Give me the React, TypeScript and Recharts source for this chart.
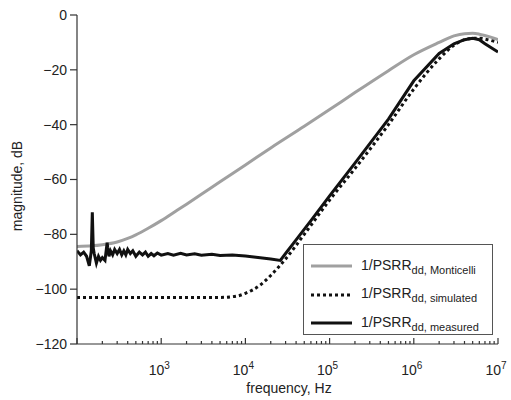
import { LineChart, Line, XAxis, YAxis, Legend, Label } from "recharts"

const FONT = '"Liberation Sans", Arial, sans-serif'

// log-axis ticks: decades get a label, the rest are minor marks
const freqTicks = [
  100, 200, 300, 400, 500, 600, 700, 800, 900,
  1e3, 2e3, 3e3, 4e3, 5e3, 6e3, 7e3, 8e3, 9e3,
  1e4, 2e4, 3e4, 4e4, 5e4, 6e4, 7e4, 8e4, 9e4,
  1e5, 2e5, 3e5, 4e5, 5e5, 6e5, 7e5, 8e5, 9e5,
  1e6, 2e6, 3e6, 4e6, 5e6, 6e6, 7e6, 8e6, 9e6,
  1e7,
]
const dbTicks = [-120, -100, -80, -60, -40, -20, 0]

const montiFreq = [100, 150, 200, 300, 400, 500, 700, 1e3, 1.5e3, 2e3, 3e3, 5e3, 1e4, 2e4, 5e4, 1e5, 2e5, 5e5, 1e6, 2e6, 3e6, 4e6, 5e6, 6e6, 8e6, 1e7]
const montiDb = [-84.4, -84.2, -83.8, -82.8, -81.5, -80.2, -77.8, -75, -71.5, -69, -65.4, -60.8, -54.7, -48.5, -40.6, -34.5, -28.3, -20.3, -14.5, -10, -7.6, -6.8, -6.7, -7, -8, -9]

const simFreq = [100, 1e3, 5e3, 8e3, 1e4, 1.5e4, 2e4, 3e4, 5e4, 1e5, 2e5, 5e5, 1e6, 2e6, 3e6, 4e6, 5e6, 6e6, 8e6, 1e7]
const simDb = [-103, -103, -103, -102.5, -101.5, -98.5, -95, -89, -80, -67.5, -56, -40, -27, -16, -11, -9, -8.5, -8.5, -9.2, -10]

const measFreq = [
  100, 110, 120, 130, 140, 148, 152, 156, 160, 170, 180, 190, 200, 215, 228, 232, 240, 250, 265, 280,
  300, 320, 340, 360, 380, 400, 430, 460, 500, 550, 600, 650, 700, 760, 820, 900, 1e3, 1.2e3, 1.4e3,
  1.7e3, 2e3, 2.5e3, 3e3, 4e3, 5e3, 7e3, 1e4, 2e4, 2.6e4, 3e4, 4e4, 6e4,
  1e5, 2e5, 5e5, 1e6, 2e6, 3e6, 4e6, 5e6, 6e6, 7e6, 1e7,
]
const measDb = [
  -86, -87.5, -86.5, -88, -91.5, -86, -72, -85, -87, -90.5, -88, -89.5, -88.5, -89.5, -83, -85, -88, -86, -87.5, -85.5,
  -87, -85.5, -87.5, -86, -87.5, -85.5, -87, -86, -88, -86.5, -87.5, -86.5, -88, -87, -87.8, -86.8, -87.6, -87, -87.6,
  -86.9, -87.5, -87.1, -87.6, -87.3, -87.7, -87.5, -87.9, -89, -89.5, -87, -82, -75,
  -66, -54, -38, -24, -14, -10.5, -9, -8.5, -9, -10.5, -13.5,
]

const montiData = montiFreq.map((f, i) => ({ f, db: montiDb[i] }))
const simData = simFreq.map((f, i) => ({ f, db: simDb[i] }))
const measData = measFreq.map((f, i) => ({ f, db: measDb[i] }))

const legendRows = [
  { sub: "dd, Monticelli", color: "#a0a0a0", dash: undefined },
  { sub: "dd, simulated", color: "#111", dash: "3 3" },
  { sub: "dd, measured", color: "#111", dash: undefined },
]

function FreqTick({ x, y, payload }: any) {
  const v = payload.value
  const exp = Math.round(Math.log10(v))
  const major = Math.abs(Math.log10(v) - exp) < 1e-6
  return (
    <g>
      <line x1={x} x2={x} y1={y} y2={y - (major ? 6 : 3)} stroke="#333" strokeWidth={1.2} />
      {major && exp >= 3 && (
        <text x={x - 2} y={y + 31} textAnchor="middle" fontSize={14} fill="#222" fontFamily={FONT}>
          10<tspan dy={-6} fontSize={10}>{exp}</tspan>
        </text>
      )}
    </g>
  )
}

function LegendBox() {
  return (
    <div
      style={{
        width: 190,
        height: 91,
        boxSizing: "border-box",
        border: "1px solid #555",
        background: "#fff",
        padding: "7px 0 0 7px",
        fontFamily: FONT,
      }}
    >
      {legendRows.map((r) => (
        <div key={r.sub} style={{ display: "flex", alignItems: "center", height: 28.5 }}>
          <svg width={41} height={6}>
            <line x1={0} x2={41} y1={3} y2={3} stroke={r.color} strokeWidth={3} strokeDasharray={r.dash} />
          </svg>
          <span style={{ marginLeft: 9, fontSize: 14, color: "#222", whiteSpace: "nowrap" }}>
            1/PSRR<sub style={{ fontSize: 11 }}>{r.sub}</sub>
          </span>
        </div>
      ))}
    </div>
  )
}

export default function App() {
  return (
    <div style={{ position: "absolute", left: 0, top: 0, background: "#fff" }}>
      <LineChart width={511} height={400} margin={{ top: 15, right: 13, left: 0, bottom: 0 }}>
        <XAxis
          dataKey="f"
          type="number"
          scale="log"
          domain={[100, 1e7]}
          allowDataOverflow
          ticks={freqTicks}
          interval={0}
          tick={<FreqTick />}
          tickLine={false}
          tickSize={0}
          tickMargin={0}
          height={56}
          stroke="#333"
          strokeWidth={1.2}
        >
          <Label
            content={() => (
              <text x={289} y={393} textAnchor="middle" fontSize={14} fill="#222" fontFamily={FONT}>
                frequency, Hz
              </text>
            )}
          />
        </XAxis>
        <YAxis
          type="number"
          domain={[-120, 0]}
          ticks={dbTicks}
          width={77}
          tickSize={7}
          tickMargin={3}
          stroke="#333"
          strokeWidth={1.2}
          tick={{ fill: "#222", fontSize: 14, fontFamily: FONT }}
          tickFormatter={(v: number) => String(v).replace("-", "\u2212")}
        >
          <Label
            content={() => (
              <text
                x={22}
                y={186}
                transform="rotate(-90 22 186)"
                textAnchor="middle"
                fontSize={14}
                fill="#222"
                fontFamily={FONT}
              >
                magnitude, dB
              </text>
            )}
          />
        </YAxis>
        <Legend
          layout="horizontal"
          verticalAlign="middle"
          align="center"
          wrapperStyle={{ left: 303, top: 244, width: 190 }}
          content={() => <LegendBox />}
        />
        <Line data={montiData} dataKey="db" type="monotone" stroke="#a0a0a0" strokeWidth={3} dot={false} isAnimationActive={false} />
        <Line data={simData} dataKey="db" type="monotone" stroke="#111" strokeWidth={3} strokeDasharray="3 3" dot={false} isAnimationActive={false} />
        <Line data={measData} dataKey="db" type="linear" stroke="#111" strokeWidth={3} dot={false} isAnimationActive={false} />
      </LineChart>
    </div>
  )
}
